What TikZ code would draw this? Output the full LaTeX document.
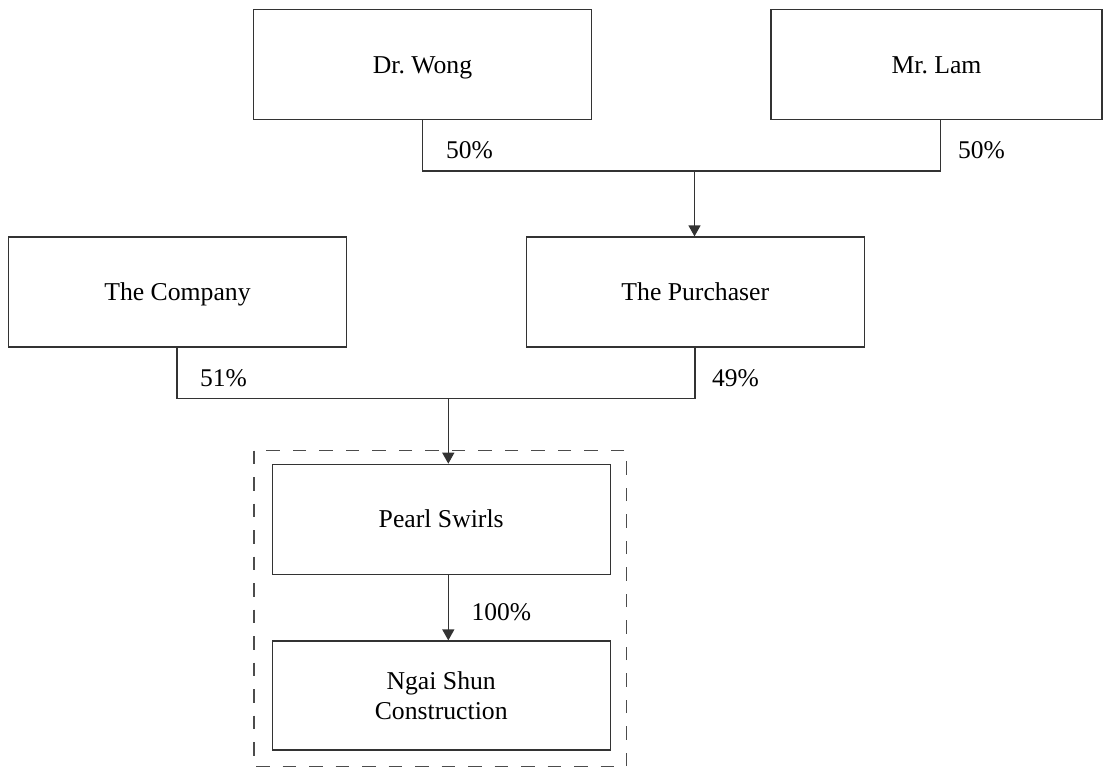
\documentclass[tikz,border=0pt]{standalone}
\usepackage{fontspec}
\setmainfont{Liberation Serif}
\usetikzlibrary{arrows.meta}
\begin{document}
\begin{tikzpicture}[x=1pt,y=-1pt,
  box/.style={draw=black!80,line width=1.2pt,minimum width=338pt,minimum height=110pt,inner sep=0pt,align=center,font=\fontsize{25.7}{30}\selectfont},
  onebox/.style={box,text height=17pt,text depth=0pt},
  pct/.style={anchor=west,inner sep=0pt,font=\fontsize{25.5}{30}\selectfont},
  conn/.style={draw=black!80,line width=1.2pt},
  arr/.style={conn,-{Triangle[length=11pt,width=12pt]}},
  group/.style={draw=black!70,line width=1.2pt,dash pattern=on 13.5pt off 13pt}]
\useasboundingbox (0,0) rectangle (1103,768);
\node[onebox] (wong) at (422.5,64.7) {Dr.\ Wong};
\node[onebox,minimum width=331pt] (lam) at (936.5,64.7) {Mr.\ Lam};
\node[onebox] (comp) at (177.5,292) {The Company};
\node[onebox] (purch) at (695.3,292) {The Purchaser};
\node[onebox] (pearl) at (441.2,519.3) {Pearl Swirls};
\node[box,minimum height=109pt] (ngai) at (441.2,695.5) {Ngai Shun\\Construction};
\draw[group] (254,450.7) rectangle (626.7,766.5);
% top level
\coordinate (wj) at (422.7,171);
\coordinate (lj) at (940.7,171);
\coordinate (pj) at (694.5,171);
\draw[conn] (wong.south -| wj) -- (wj) -- (lj) -- (lam.south -| lj);
\draw[arr] (pj) -- (pj |- purch.north);
\node[pct] (p1) at (446,150) {50\%};
\node[pct] (p2) at (958,150) {50\%};
% second level
\coordinate (cj) at (177,398.3);
\coordinate (uj) at (695,398.3);
\coordinate (mj) at (448.3,398.3);
\draw[conn] (comp.south -| cj) -- (cj) -- (uj) -- (purch.south -| uj);
\draw[arr] (mj) -- (mj |- pearl.north);
\node[pct] (p3) at (200,378) {51\%};
\node[pct] (p4) at (712,378) {49\%};
% third level
\coordinate (sj) at (448.3,574.3);
\draw[arr] (pearl.south -| sj) -- (sj |- ngai.north);
\node[pct] (p5) at (471.5,612) {100\%};
\end{tikzpicture}
\end{document}
